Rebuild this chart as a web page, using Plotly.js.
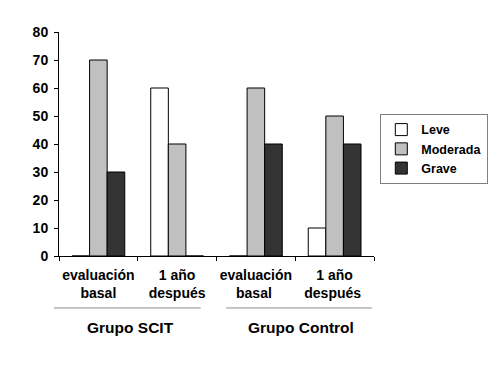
<!DOCTYPE html>
<html><head><meta charset="utf-8">
<script src="https://cdn.plot.ly/plotly-3.0.1.min.js"></script>
<style>body{margin:0;background:#fff}#c{width:500px;height:380px}</style>
</head><body><div id="c"></div>
<script>
var categories = ["evaluación<br>basal", "1 año<br>después", "evaluación<br>basal ", "1 año<br>después "];
var groups = ["Grupo SCIT", "Grupo Control"];
var leve = [0, 60, 0, 10];
var moderada = [70, 40, 60, 50];
var grave = [30, 0, 40, 40];
var yTicks = [0, 10, 20, 30, 40, 50, 60, 70, 80];

var fam = "Arial, 'Liberation Sans', sans-serif";
function tr(name, y, color) {
  return {type: "bar", name: name, x: categories, y: y,
    marker: {color: color, line: {color: "#000", width: 1}}};
}
var data = [tr("Leve", leve, "#ffffff"), tr("Moderada", moderada, "#c0c0c0"), tr("Grave", grave, "#333333")];

var layout = {
  width: 500, height: 380,
  margin: {l: 59, r: 123, t: 32, b: 124},
  paper_bgcolor: "#fff", plot_bgcolor: "#fff",
  font: {family: fam, size: 13, color: "#000", weight: "bold"},
  barmode: "group", bargap: 0.33, bargroupgap: 0,
  showlegend: true,
  legend: {x: 1.02, y: 0.634, xanchor: "left", yanchor: "top",
    bordercolor: "#808080", borderwidth: 1, bgcolor: "#fff",
    font: {family: fam, size: 12.5, weight: "bold", color: "#000"},
    tracegroupgap: 0, itemwidth: 30},
  xaxis: {type: "category", showline: true, linecolor: "#000", linewidth: 1,
    ticks: "outside", tickson: "boundaries", ticklen: 4, tickcolor: "#000",
    ticklabelstandoff: 6, tickangle: 0,
    showgrid: false, tickfont: {family: fam, size: 14, weight: "bold", color: "#000"}},
  yaxis: {range: [0, 80], tickvals: yTicks, showline: true, linecolor: "#000", linewidth: 1,
    ticks: "outside", ticklen: 4, tickcolor: "#000", showgrid: false, zeroline: false,
    ticklabelstandoff: 3,
    tickfont: {family: fam, size: 14, weight: "bold", color: "#000"}},
  shapes: [
    {type: "line", xref: "paper", yref: "paper", x0: -0.016, x1: 0.45, y0: -0.232, y1: -0.232, line: {color: "#909090", width: 1}},
    {type: "line", xref: "paper", yref: "paper", x0: 0.531, x1: 0.994, y0: -0.232, y1: -0.232, line: {color: "#909090", width: 1}}
  ],
  annotations: [
    {xref: "paper", yref: "paper", x: 0.226, y: -0.317, xanchor: "center", yanchor: "middle", text: groups[0], showarrow: false,
      font: {family: fam, size: 15.5, weight: "bold", color: "#000"}},
    {xref: "paper", yref: "paper", x: 0.767, y: -0.317, xanchor: "center", yanchor: "middle", text: groups[1], showarrow: false,
      font: {family: fam, size: 15.5, weight: "bold", color: "#000"}}
  ]
};
Plotly.newPlot("c", data, layout, {staticPlot: true});
</script></body></html>
